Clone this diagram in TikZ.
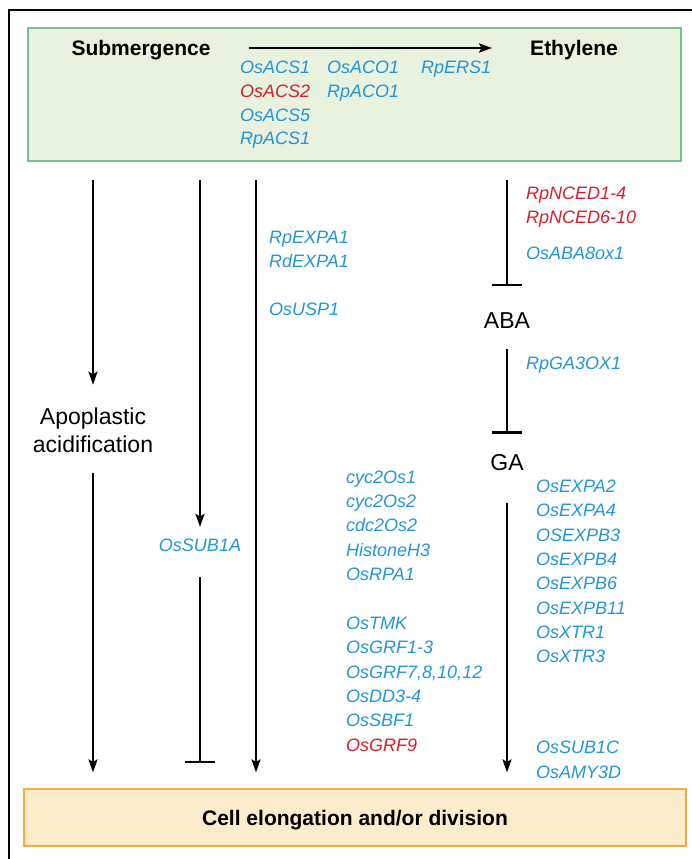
\documentclass[tikz,border=0pt]{standalone}
\usepackage{fontspec}
\setmainfont{Liberation Sans}
\usepackage{tikz}
\usetikzlibrary{positioning,arrows.meta,calc}
\usepackage{xcolor}
\definecolor{geneblue}{RGB}{35,150,215}
\definecolor{genered}{RGB}{213,32,42}
\definecolor{boxgreen}{RGB}{233,241,223}
\definecolor{edgegreen}{RGB}{120,190,142}
\definecolor{boxorange}{RGB}{251,236,204}
\definecolor{edgeorange}{RGB}{244,172,62}
\tikzset{
  gene/.style={anchor=base west,inner sep=0pt,text=geneblue,font=\fontsize{18}{20}\selectfont\itshape},
  upgene/.style={gene,text=genered},
  title/.style={inner sep=0pt,text height=15pt,text depth=0pt,font=\fontsize{21}{24}\selectfont\bfseries},
  hormone/.style={inner sep=0pt,font=\fontsize{23}{28}\selectfont},
  act/.style={line width=2.2pt,-{Stealth[length=13pt,width=9pt,inset=2.5pt]}},
  inh/.style={line width=2.2pt,-{Bar[width=30pt,line width=2.5pt]}},
}

\begin{document}
\begin{tikzpicture}[x=1pt,y=-1pt]
\useasboundingbox (0,0) rectangle (692,859);
\draw[line width=1.3pt] (692,10) -- (9,10) -- (9,859);
\node[draw=edgegreen,fill=boxgreen,line width=1.2pt,minimum width=653pt,minimum height=133pt,inner sep=0pt] (sig) at (354.5,94.5) {};
\node[title,draw=edgeorange,fill=boxorange,line width=1.2pt,minimum width=662pt,minimum height=57pt] (cell) at (355,817.5) {Cell elongation and/or division};
\node[title] (sub) at (141,48) {Submergence};
\node[title] (eth) at (574,48) {Ethylene};
\draw[act,line width=2.5pt,yshift=2pt,shorten <=38pt,shorten >=38pt] (sub) -- (eth);
\node[gene] (acs1) at (240,74) {OsACS1};
\node[upgene] (acs2) at (240,97.5) {OsACS2};
\node[gene] (acs5) at (240,121) {OsACS5};
\node[gene] (racs1) at (240,144.5) {RpACS1};
\node[gene] (aco1) at (327,74) {OsACO1};
\node[gene] (raco1) at (327,97.5) {RpACO1};
\node[gene] (ers1) at (421,74) {RpERS1};

\node[hormone,align=center] (apo) at (93,430) {Apoplastic\\acidification};
\draw[act,shorten <=18pt,shorten >=22.6pt] (sig.south -| apo) -- (apo.north);
\draw[act,shorten <=20.6pt,shorten >=16pt] (apo.south) -- (cell.north -| apo);

\node[gene,anchor=center] (sub1a) at (200,545) {OsSUB1A};
\draw[act,shorten <=18pt,shorten >=11.5pt] (sig.south -| sub1a) -- (sub1a.north);
\draw[inh,shorten <=25.5pt,shorten >=25pt] (sub1a.south) -- (cell.north -| sub1a);

\coordinate (mid) at (256,500);
\draw[act,shorten <=18pt,shorten >=16pt] (sig.south -| mid) -- (cell.north -| mid);
\node[gene] (expa1) at (269,243.5) {RpEXPA1};
\node[gene] (rdexpa1) at (269,267.5) {RdEXPA1};
\node[gene] (usp1) at (269,315.5) {OsUSP1};

\node[hormone] (aba) at (507,321) {ABA};
\node[hormone] (ga) at (507,463) {GA};
\draw[inh,shorten <=18pt,shorten >=26.75pt] (sig.south -| aba) -- (aba.north);
\draw[inh,shorten <=20pt,shorten >=20.75pt] (aba.south) -- (ga.north);
\draw[act,shorten <=31.75pt,shorten >=16pt] (ga.south) -- (cell.north -| ga);
\node[upgene] (nced1) at (526,199.5) {RpNCED1-4};
\node[upgene] (nced6) at (526,223.5) {RpNCED6-10};
\node[gene] (aba8ox) at (526,259.5) {OsABA8ox1};
\node[gene] (ga3ox) at (526,369.5) {RpGA3OX1};

\node[gene] (cyc1) at (346,483.5) {cyc2Os1};
\node[gene] (cyc2) at (346,507.5) {cyc2Os2};
\node[gene] (cdc2) at (346,531.7) {cdc2Os2};
\node[gene] (h3) at (346,556) {HistoneH3};
\node[gene] (rpa1) at (346,580) {OsRPA1};
\node[gene] (tmk) at (346,629) {OsTMK};
\node[gene] (grf13) at (346,653) {OsGRF1-3};
\node[gene] (grf7) at (346,678) {OsGRF7,8,10,12};
\node[gene] (dd3) at (346,702.3) {OsDD3-4};
\node[gene] (sbf1) at (346,726.3) {OsSBF1};
\node[upgene] (grf9) at (346,751.3) {OsGRF9};

\node[gene] (expa2) at (536,492.5) {OsEXPA2};
\node[gene] (expa4) at (536,516.5) {OsEXPA4};
\node[gene] (expb3) at (536,541.3) {OSEXPB3};
\node[gene] (expb4) at (536,565.3) {OsEXPB4};
\node[gene] (expb6) at (536,589.2) {OsEXPB6};
\node[gene] (expb11) at (536,614) {OsEXPB11};
\node[gene] (xtr1) at (536,638) {OsXTR1};
\node[gene] (xtr3) at (536,662.3) {OsXTR3};
\node[gene] (sub1c) at (536,753.7) {OsSUB1C};
\node[gene] (amy3d) at (536,778) {OsAMY3D};
\end{tikzpicture}
\end{document}
